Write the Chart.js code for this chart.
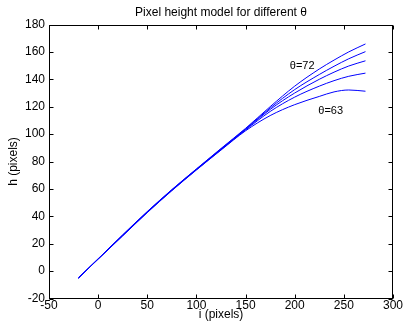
<!DOCTYPE html>
<html>
<head>
<meta charset="utf-8">
<script src="https://cdn.jsdelivr.net/npm/chart.js@4"></script>
<style>
  html, body { margin: 0; padding: 0; background: #fff; }
  canvas { display: block; }
</style>
</head>
<body>
<canvas id="chart" width="403" height="330"></canvas>
<script>
// Pixel height model

const xValues = [-20, 0, 25, 50, 75, 100, 125, 150, 175, 200, 225, 240, 255, 272];

// one curve per theta, top to bottom
const hTheta72 = [-5, 9.0, 26.5, 43.5, 59.5, 74.6, 89.5, 104.2, 120.0, 135.0, 147.5, 154.0, 160.0, 165.8];
const hTheta70 = [-5, 9.0, 26.3, 43.3, 59.3, 74.4, 89.2, 103.8, 119.0, 132.5, 143.5, 149.5, 155.0, 160.2];
const hTheta68 = [-5, 8.9, 26.1, 43.1, 59.1, 74.2, 88.9, 103.4, 118.0, 130.0, 140.0, 145.2, 149.7, 153.5];
const hTheta65 = [-5, 8.8, 25.9, 42.9, 58.9, 74.0, 88.6, 103.0, 116.5, 127.0, 135.0, 139.0, 142.2, 144.5];
const hTheta63 = [-5, 8.7, 25.7, 42.7, 58.7, 73.8, 88.3, 102.4, 113.5, 121.5, 127.5, 130.8, 132.2, 131.3];

const curves = [hTheta72, hTheta70, hTheta68, hTheta65, hTheta63];

// text labels placed in data coordinates
const noteText = ['\u03b8=72', '\u03b8=63'];
const noteX = [195, 224];
const noteY = [150, 117];

const FONT = '"Liberation Sans", Arial, sans-serif';

// box round the axes with inward ticks, MATLAB style
const frameTicks = {
    id: 'frameTicks',
    afterDraw(chart) {
        const { ctx, chartArea: a, scales } = chart;
        const len = 4;
        ctx.save();
        ctx.strokeStyle = '#000';
        ctx.lineWidth = 1;
        const l = Math.round(a.left) + 0.5, r = Math.round(a.right) - 0.5;
        const t = Math.round(a.top) + 0.5, b = Math.round(a.bottom) - 0.5;
        ctx.strokeRect(l, t, r - l, b - t);
        ctx.beginPath();
        scales.x.ticks.forEach(tk => {
            const px = Math.round(scales.x.getPixelForValue(tk.value)) + 0.5;
            ctx.moveTo(px, b); ctx.lineTo(px, b - len);
            ctx.moveTo(px, t); ctx.lineTo(px, t + len);
        });
        scales.y.ticks.forEach(tk => {
            const py = Math.round(scales.y.getPixelForValue(tk.value)) + 0.5;
            ctx.moveTo(l, py); ctx.lineTo(l + len, py);
            ctx.moveTo(r, py); ctx.lineTo(r - len, py);
        });
        ctx.stroke();

        ctx.fillStyle = '#000';
        ctx.font = '11px ' + FONT;
        ctx.textAlign = 'left';
        ctx.textBaseline = 'middle';
        noteText.forEach((txt, i) => {
            ctx.fillText(txt, scales.x.getPixelForValue(noteX[i]), scales.y.getPixelForValue(noteY[i]));
        });
        ctx.restore();
    }
};

new Chart(document.getElementById('chart'), {
    type: 'line',
    data: {
        labels: xValues,
        datasets: curves.map(c => ({
            data: c.map((h, i) => ({ x: xValues[i], y: h })),
            borderColor: '#0000ff',
            borderWidth: 1,
            pointRadius: 0,
            fill: false,
            cubicInterpolationMode: 'monotone'
        }))
    },
    options: {
        responsive: false,
        animation: false,
        layout: { padding: { left: 6, right: 0, top: 0, bottom: 8 } },
        plugins: {
            legend: { display: false },
            tooltip: { enabled: false },
            title: {
                display: true,
                fullSize: false,
                text: 'Pixel height model for different \u03b8',
                color: '#000',
                font: { family: FONT, size: 12, weight: 'normal', lineHeight: 1.2 },
                padding: { top: 5, bottom: 5.1 }
            }
        },
        scales: {
            x: {
                type: 'linear',
                min: -50,
                max: 300,
                grid: { display: false, drawTicks: false },
                border: { display: false },
                ticks: { stepSize: 50, color: '#000', padding: 0, maxRotation: 0,
                         font: { family: FONT, size: 12 } },
                title: { display: true, text: 'i (pixels)', color: '#000', padding: 0,
                         font: { family: FONT, size: 12, lineHeight: 1.2 } },
                afterFit(scale) { scale.height = 23.5; }
            },
            y: {
                type: 'linear',
                min: -20,
                max: 180,
                grid: { display: false, drawTicks: false },
                border: { display: false },
                ticks: { stepSize: 20, color: '#000', padding: 4,
                         font: { family: FONT, size: 12 } },
                title: { display: true, text: 'h (pixels)', color: '#000', padding: 0,
                         font: { family: FONT, size: 12, lineHeight: 1.2 } },
                afterFit(scale) { scale.width = 43; }
            }
        }
    },
    plugins: [frameTicks]
});
</script>
</body>
</html>
